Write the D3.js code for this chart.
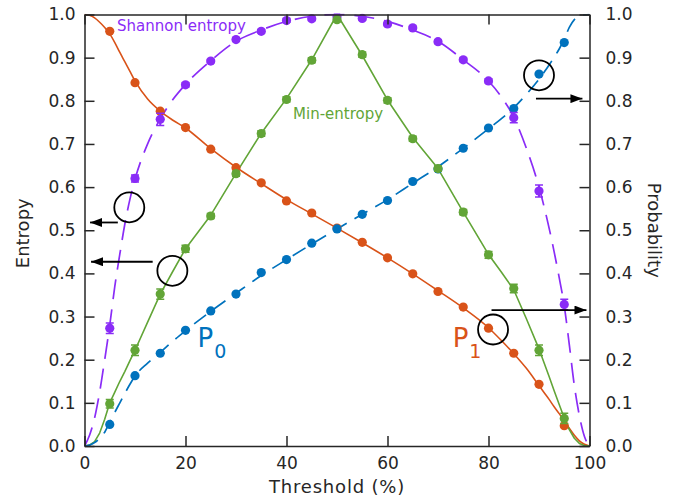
<!DOCTYPE html>
<html lang="en">
<head>
    <meta charset="UTF-8">
    <title>Entropy vs Threshold</title>
    <script src="https://d3js.org/d3.v7.min.js"></script>
    <style>
        body { margin: 0; background: #fff; }
        text { font-family: "DejaVu Sans", Verdana, sans-serif; fill: #262626; }
    </style>
</head>
<body>
    <div id="chart"></div>

    <script>
        // measured thresholds (%)
        const thresholds = [5, 10, 15, 20, 25, 30, 35, 40, 45, 50, 55, 60, 65, 70, 75, 80, 85, 90, 95];

        // measured points
        const p1Points = [0.961, 0.842, 0.776, 0.738, 0.688, 0.645, 0.610, 0.568, 0.540, 0.505, 0.472, 0.436, 0.399, 0.358, 0.322, 0.273, 0.215, 0.143, 0.047];
        const p0Points = [0.050, 0.163, 0.215, 0.268, 0.313, 0.352, 0.402, 0.432, 0.470, 0.503, 0.537, 0.569, 0.613, 0.642, 0.690, 0.737, 0.782, 0.862, 0.935];
        const shannonPoints = [0.273, 0.620, 0.757, 0.837, 0.892, 0.942, 0.961, 0.986, 0.990, 0.995, 0.991, 0.978, 0.969, 0.937, 0.895, 0.846, 0.761, 0.591, 0.328];
        const shannonErr = [0.012, 0.008, 0.014, 0.005, 0.004, 0.004, 0.004, 0.004, 0.004, 0.004, 0.004, 0.004, 0.004, 0.004, 0.004, 0.005, 0.012, 0.014, 0.012];
        const minPoints = [0.098, 0.222, 0.352, 0.457, 0.533, 0.631, 0.724, 0.803, 0.894, 0.988, 0.907, 0.801, 0.712, 0.643, 0.542, 0.443, 0.365, 0.222, 0.064];
        const minErr = [0.010, 0.012, 0.012, 0.008, 0.006, 0.006, 0.006, 0.006, 0.006, 0.005, 0.006, 0.006, 0.006, 0.006, 0.006, 0.008, 0.010, 0.012, 0.012];

        // model curves
        const curveX = [0, 1, 2, 3, 4, 5, 6, 7, 8, 9, 10, 12.5, 15, 17.5, 20, 25, 30, 35, 40, 45, 50, 55, 60, 65, 70, 75, 80, 82.5, 85, 87.5, 90, 91, 92, 93, 94, 95, 96, 97, 98, 99, 100];
        const p1Curve = [1.0, 0.998, 0.992, 0.982, 0.97, 0.955, 0.935, 0.912, 0.89, 0.868, 0.846, 0.804, 0.776, 0.755, 0.737, 0.689, 0.646, 0.608, 0.571, 0.538, 0.505, 0.471, 0.436, 0.399, 0.36, 0.32, 0.274, 0.245, 0.214, 0.18, 0.14, 0.124, 0.108, 0.091, 0.075, 0.058, 0.041, 0.025, 0.012, 0.004, 0.0];
        const p0Curve = [0.0, 0.002, 0.008, 0.018, 0.032, 0.055, 0.078, 0.1, 0.122, 0.143, 0.162, 0.192, 0.217, 0.243, 0.267, 0.312, 0.354, 0.395, 0.432, 0.468, 0.503, 0.537, 0.571, 0.609, 0.647, 0.69, 0.735, 0.758, 0.784, 0.815, 0.85, 0.866, 0.883, 0.901, 0.92, 0.943, 0.97, 0.988, 0.996, 0.999, 1.0];
        const shannonCurve = [0.0, 0.025, 0.065, 0.125, 0.2, 0.28, 0.37, 0.445, 0.515, 0.572, 0.618, 0.7, 0.758, 0.803, 0.838, 0.893, 0.938, 0.964, 0.984, 0.996, 1.0, 0.996, 0.984, 0.964, 0.938, 0.895, 0.846, 0.81, 0.762, 0.69, 0.6, 0.555, 0.505, 0.45, 0.39, 0.325, 0.235, 0.14, 0.07, 0.022, 0.0];
        const minCurve = [0.0, 0.002, 0.01, 0.03, 0.062, 0.1, 0.125, 0.15, 0.173, 0.198, 0.222, 0.287, 0.352, 0.405, 0.457, 0.535, 0.632, 0.725, 0.805, 0.895, 1.0, 0.905, 0.802, 0.715, 0.643, 0.542, 0.444, 0.404, 0.362, 0.295, 0.225, 0.193, 0.161, 0.128, 0.096, 0.065, 0.038, 0.018, 0.006, 0.001, 0.0];

        const xTicks = [0, 20, 40, 60, 80, 100];
        const yTicks = [0, 0.1, 0.2, 0.3, 0.4, 0.5, 0.6, 0.7, 0.8, 0.9, 1.0];

        // annotation marks, in data units
        const circles = [[8.87, 0.553], [17.4, 0.406], [90.0, 0.859], [80.9, 0.27]];
        const arrows = [[6.6, 0.518, 1.1, 0.518], [13.5, 0.427, 1.3, 0.427], [89.4, 0.805, 98.6, 0.805], [80.6, 0.315, 99.4, 0.315]];

        const colors = { p1: "#d95319", p0: "#0072bd", shannon: "#8a2cf7", min: "#62a537" };

        const width = 682, height = 502;
        const margin = { top: 14.5, right: 92.5, bottom: 56, left: 84.5 };

        const svg = d3.select("#chart").append("svg").attr("width", width).attr("height", height);

        const x = d3.scaleLinear().domain([0, 100]).range([margin.left, width - margin.right]);
        const y = d3.scaleLinear().domain([0, 1]).range([height - margin.bottom, margin.top]);

        const defs = svg.append("defs");
        defs.append("clipPath").attr("id", "plot-clip")
            .append("rect")
            .attr("x", x(0)).attr("y", y(1) - 1)
            .attr("width", x(100) - x(0)).attr("height", y(0) - y(1) + 2);
        defs.append("marker")
            .attr("id", "head")
            .attr("viewBox", "0 0 12 9")
            .attr("refX", 12).attr("refY", 4.5)
            .attr("markerWidth", 12).attr("markerHeight", 9)
            .attr("markerUnits", "userSpaceOnUse")
            .attr("orient", "auto")
            .append("path").attr("d", "M0,0 L12,4.5 L0,9 Z").attr("fill", "#000");

        const plot = svg.append("g").attr("clip-path", "url(#plot-clip)");

        const line = d3.line()
            .x((d, i) => x(curveX[i]))
            .y(d => y(d))
            .curve(d3.curveMonotoneX);
        // min-entropy has a sharp peak, so keep straight segments
        const straight = d3.line()
            .x((d, i) => x(curveX[i]))
            .y(d => y(d));

        plot.append("path").datum(p1Curve).attr("d", line)
            .attr("fill", "none").attr("stroke", colors.p1).attr("stroke-width", 1.6);
        plot.append("path").datum(minCurve).attr("d", straight)
            .attr("fill", "none").attr("stroke", colors.min).attr("stroke-width", 1.6)
            .attr("stroke-linejoin", "round");
        plot.append("path").datum(p0Curve).attr("d", line)
            .attr("fill", "none").attr("stroke", colors.p0).attr("stroke-width", 1.7)
            .attr("stroke-dasharray", "15,9");
        plot.append("path").datum(shannonCurve).attr("d", line)
            .attr("fill", "none").attr("stroke", colors.shannon).attr("stroke-width", 1.7)
            .attr("stroke-dasharray", "20,10");

        function drawPoints(values, errs, color) {
            const g = plot.append("g");
            if (errs) {
                g.selectAll(".err")
                    .data(values)
                    .enter()
                    .append("g")
                    .each(function (d, i) {
                        const gg = d3.select(this);
                        const cx = x(thresholds[i]);
                        gg.append("line")
                            .attr("x1", cx).attr("x2", cx)
                            .attr("y1", y(d - errs[i])).attr("y2", y(d + errs[i]))
                            .attr("stroke", color).attr("stroke-width", 2);
                        [d - errs[i], d + errs[i]].forEach(v => {
                            gg.append("line")
                                .attr("x1", cx - 4).attr("x2", cx + 4)
                                .attr("y1", y(v)).attr("y2", y(v))
                                .attr("stroke", color).attr("stroke-width", 1.5);
                        });
                    });
            }
            g.selectAll("circle")
                .data(values)
                .enter()
                .append("circle")
                .attr("cx", (d, i) => x(thresholds[i]))
                .attr("cy", d => y(d))
                .attr("r", 4.6)
                .attr("fill", color);
        }

        drawPoints(p1Points, null, colors.p1);
        drawPoints(p0Points, null, colors.p0);
        drawPoints(shannonPoints, shannonErr, colors.shannon);
        drawPoints(minPoints, minErr, colors.min);

        // axes
        const fmt = d3.format(".1f");
        const axisColor = "#262626";

        function styleAxis(g) {
            g.selectAll("line").attr("stroke", axisColor).attr("stroke-width", 1.5);
            g.selectAll("path").attr("stroke", axisColor).attr("stroke-width", 1.5);
            g.selectAll("text").attr("font-size", 17).attr("fill", axisColor)
                .attr("font-family", '"DejaVu Sans", Verdana, sans-serif');
        }

        svg.append("g").attr("transform", `translate(${x(0)},0)`)
            .call(d3.axisLeft(y).tickValues(yTicks).tickFormat(fmt).tickSizeInner(-10).tickSizeOuter(0).tickPadding(9))
            .call(styleAxis);
        svg.append("g").attr("transform", `translate(${x(100)},0)`)
            .call(d3.axisRight(y).tickValues(yTicks).tickFormat(fmt).tickSizeInner(-10).tickSizeOuter(0).tickPadding(16))
            .call(styleAxis);
        svg.append("g").attr("transform", `translate(0,${y(0)})`)
            .call(d3.axisBottom(x).tickValues(xTicks).tickSizeInner(-10).tickSizeOuter(0).tickPadding(11))
            .call(styleAxis);
        svg.append("g").attr("transform", `translate(0,${y(1)})`)
            .call(d3.axisTop(x).tickValues(xTicks).tickFormat("").tickSizeInner(-10).tickSizeOuter(0))
            .call(styleAxis);

        // axis titles
        svg.append("text")
            .attr("transform", `translate(29,${(y(0) + y(1)) / 2 + 3}) rotate(-90)`)
            .attr("text-anchor", "middle").attr("font-size", 18)
            .text("Entropy");
        svg.append("text")
            .attr("transform", `translate(648,${(y(0) + y(1)) / 2}) rotate(90)`)
            .attr("text-anchor", "middle").attr("font-size", 18)
            .text("Probability");
        svg.append("text")
            .attr("x", (x(0) + x(100)) / 2).attr("y", 493)
            .attr("text-anchor", "middle").attr("font-size", 18)
            .attr("letter-spacing", 0.8)
            .text("Threshold (%)");

        // series labels
        svg.append("text")
            .attr("x", x(6.45)).attr("y", y(0.961))
            .attr("font-size", 15).style("fill", colors.shannon)
            .text("Shannon entropy");
        svg.append("text")
            .attr("x", x(41.3)).attr("y", y(0.757))
            .attr("font-size", 15).style("fill", colors.min)
            .text("Min-entropy");

        function probLabel(px, py, sub, color) {
            const t = svg.append("text")
                .attr("x", x(px)).attr("y", y(py))
                .style("fill", color);
            t.append("tspan").attr("font-size", 26).text("P");
            t.append("tspan").attr("font-size", 19).attr("dx", 1).attr("dy", 11).text(sub);
        }
        probLabel(22.4, 0.229, "0", colors.p0);
        probLabel(72.9, 0.229, "1", colors.p1);

        // circles and arrows
        svg.append("g").selectAll("circle")
            .data(circles)
            .enter()
            .append("circle")
            .attr("cx", d => x(d[0]))
            .attr("cy", d => y(d[1]))
            .attr("r", 15)
            .attr("fill", "none")
            .attr("stroke", "#000")
            .attr("stroke-width", 1.8);

        svg.append("g").selectAll("line")
            .data(arrows)
            .enter()
            .append("line")
            .attr("x1", d => x(d[0]))
            .attr("y1", d => y(d[1]))
            .attr("x2", d => x(d[2]))
            .attr("y2", d => y(d[3]))
            .attr("stroke", "#000")
            .attr("stroke-width", 1.8)
            .attr("marker-end", "url(#head)");
    </script>
</body>
</html>
